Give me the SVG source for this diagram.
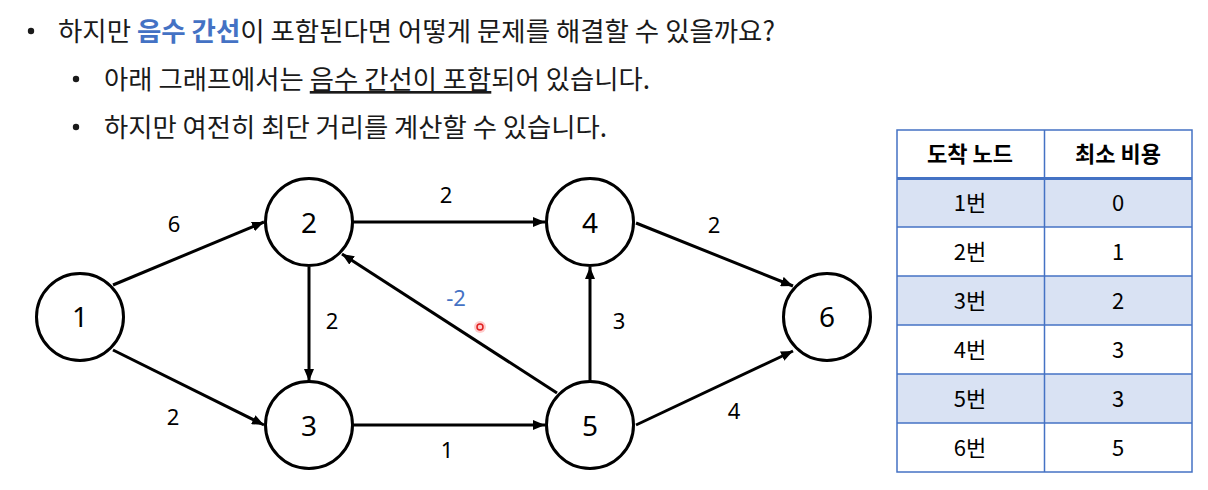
<svg xmlns="http://www.w3.org/2000/svg" width="1208" height="490" viewBox="0 0 1208 490">
<defs>
<marker id="arr" markerUnits="userSpaceOnUse" markerWidth="12" markerHeight="10" refX="12" refY="5" orient="auto">
<path d="M0,0 L12,5 L0,10 z" fill="#000"/>
</marker>
<style>
.t{font-family:"Noto Sans CJK KR","Noto Sans",sans-serif;font-size:26.5px;fill:#1a1a1a}
.blue{fill:#4472C4;font-weight:bold}
.node circle{fill:#fff;stroke:#000;stroke-width:3}
.node text{font-family:"Noto Sans","Noto Sans CJK KR",sans-serif;font-size:28px;text-anchor:middle;fill:#000}
.edges line{stroke:#000;stroke-width:3;marker-end:url(#arr)}
.el{font-family:"Noto Sans","Noto Sans CJK KR",sans-serif;font-size:22px;text-anchor:middle;fill:#000}
.th{font-family:"Noto Sans CJK KR",sans-serif;font-size:22px;font-weight:bold;text-anchor:middle;fill:#000}
.td{font-family:"Noto Sans CJK KR","Noto Sans",sans-serif;font-size:22px;text-anchor:middle;fill:#000}
.grid{stroke:#4472C4;stroke-width:1.5;fill:none}
</style>
</defs>
<rect width="1208" height="490" fill="#fff"/>

<!-- bullets -->
<g id="text">
<circle cx="31" cy="31" r="3.2" fill="#1a1a1a"/>
<text class="t" x="58" y="41" textLength="717" lengthAdjust="spacingAndGlyphs">하지만 <tspan class="blue">음수 간선</tspan>이 포함된다면 어떻게 문제를 해결할 수 있을까요?</text>
<circle cx="76" cy="79" r="3.2" fill="#1a1a1a"/>
<text class="t" x="104" y="89" textLength="546" lengthAdjust="spacingAndGlyphs">아래 그래프에서는 <tspan text-decoration="underline">음수 간선이 포함</tspan>되어 있습니다.</text>
<circle cx="76" cy="127" r="3.2" fill="#1a1a1a"/>
<text class="t" x="104" y="137" textLength="503" lengthAdjust="spacingAndGlyphs">하지만 여전히 최단 거리를 계산할 수 있습니다.</text>
</g>

<!-- connectors -->
<g id="edges" class="edges">
<line x1="113" y1="285" x2="264" y2="222"/>
<line x1="113" y1="350" x2="264" y2="425"/>
<line x1="309" y1="267" x2="309" y2="381"/>
<line x1="353" y1="222" x2="545" y2="222"/>
<line x1="353" y1="425" x2="545" y2="425"/>
<line x1="557" y1="393" x2="342" y2="254"/>
<line x1="590" y1="381" x2="590" y2="267"/>
<line x1="636" y1="223" x2="793" y2="286"/>
<line x1="636" y1="425" x2="793" y2="351"/>
</g>
<g id="edge-labels">
<text class="el" x="174" y="232">6</text>
<text class="el" x="173" y="425">2</text>
<text class="el" x="332" y="329">2</text>
<text class="el" x="446" y="203">2</text>
<text class="el" x="456" y="306" style="fill:#4472C4">-2</text>
<text class="el" x="619" y="329">3</text>
<text class="el" x="447" y="458">1</text>
<text class="el" x="714" y="233">2</text>
<text class="el" x="734" y="419">4</text>
</g>

<g id="node1" class="node"><circle cx="80" cy="317" r="43.5"/><text x="80" y="327">1</text></g>
<g id="node2" class="node"><circle cx="309" cy="222" r="43.5"/><text x="309" y="233">2</text></g>
<g id="node3" class="node"><circle cx="309" cy="425" r="43.5"/><text x="309" y="436">3</text></g>
<g id="node4" class="node"><circle cx="590" cy="222" r="43.5"/><text x="590" y="233">4</text></g>
<g id="node5" class="node"><circle cx="590" cy="425" r="43.5"/><text x="590" y="436">5</text></g>
<g id="node6" class="node"><circle cx="827" cy="317" r="43.5"/><text x="827" y="327">6</text></g>

<!-- pointer dot -->
<circle cx="480" cy="327" r="6" fill="#ff0000" opacity="0.2"/>
<circle cx="480" cy="327" r="3" fill="none" stroke="#e02020" stroke-width="1.5"/>

<!-- table -->
<g id="table">
<rect x="897" y="178" width="295" height="49" fill="#D9E2F3"/>
<rect x="897" y="276" width="295" height="49" fill="#D9E2F3"/>
<rect x="897" y="374" width="295" height="49" fill="#D9E2F3"/>
<rect class="grid" x="897" y="130" width="295" height="342"/>
<line class="grid" x1="1044.5" y1="130" x2="1044.5" y2="472"/>
<line x1="897" y1="178.5" x2="1192" y2="178.5" stroke="#4472C4" stroke-width="3"/>
<line class="grid" x1="897" y1="227" x2="1192" y2="227"/>
<line class="grid" x1="897" y1="276" x2="1192" y2="276"/>
<line class="grid" x1="897" y1="325" x2="1192" y2="325"/>
<line class="grid" x1="897" y1="374" x2="1192" y2="374"/>
<line class="grid" x1="897" y1="423" x2="1192" y2="423"/>
<text class="th" x="970" y="162">도착 노드</text>
<text class="th" x="1118" y="162">최소 비용</text>
<text class="td" x="970" y="211">1번</text><text class="td" x="1118" y="211">0</text>
<text class="td" x="970" y="260">2번</text><text class="td" x="1118" y="260">1</text>
<text class="td" x="970" y="309">3번</text><text class="td" x="1118" y="309">2</text>
<text class="td" x="970" y="358">4번</text><text class="td" x="1118" y="358">3</text>
<text class="td" x="970" y="407">5번</text><text class="td" x="1118" y="407">3</text>
<text class="td" x="970" y="456">6번</text><text class="td" x="1118" y="456">5</text>
</g>
</svg>
